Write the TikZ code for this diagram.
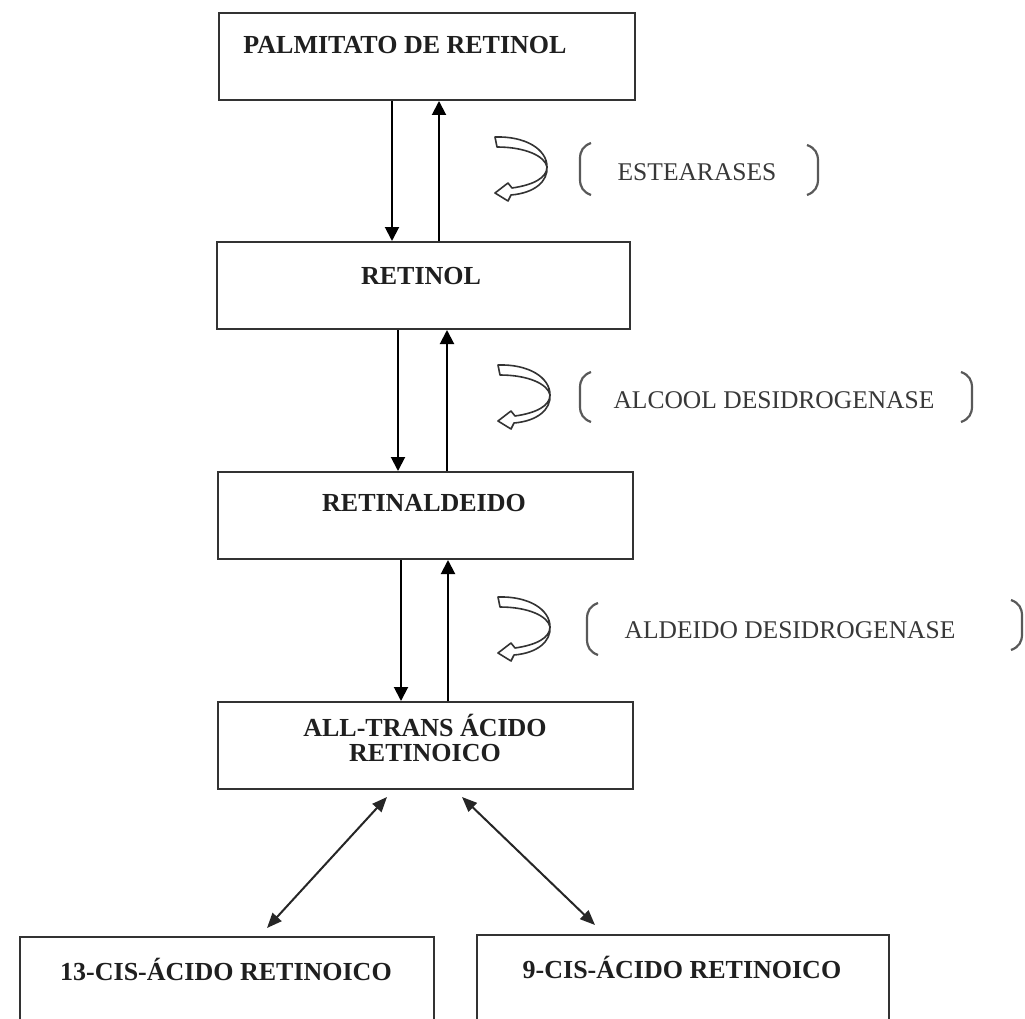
\documentclass[tikz,border=0pt]{standalone}
\usepackage{fontspec}
\setmainfont{Liberation Serif}
\usetikzlibrary{arrows.meta}
\definecolor{ink}{gray}{0.12}
\definecolor{frame}{gray}{0.2}
\newcommand{\myuturn}[1]{%
  \draw[uturn, shift={#1}] (0,0) .. controls (30,-1) and (52,12) .. (52,30)
    .. controls (52,41) and (38,48) .. (17,51) -- (13,46) -- (0,56) -- (13,64) -- (16,58)
    .. controls (40,56) and (53,44) .. (52,30)
    .. controls (50,19) and (30,10) .. (2,10) -- cycle;}
\newcommand{\mylbrack}[3]{% x, top, bottom
  \draw[brack] (#1+11,#2) .. controls (#1+3,#2+3) and (#1,#2+8) .. (#1,#2+16)
    -- (#1,#3-16) .. controls (#1,#3-8) and (#1+3,#3-3) .. (#1+11,#3);}
\newcommand{\myrbrack}[3]{%
  \draw[brack] (#1-11,#2) .. controls (#1-3,#2+3) and (#1,#2+8) .. (#1,#2+16)
    -- (#1,#3-16) .. controls (#1,#3-8) and (#1-3,#3-3) .. (#1-11,#3);}
\begin{document}
\begin{tikzpicture}[x=1pt,y=-1pt,
  box/.style={draw=frame, line width=2pt, rectangle, inner sep=0pt, anchor=north west},
  lbl/.style={font=\fontsize{26}{25}\selectfont\bfseries, text=ink, align=center, inner sep=0pt},
  enz/.style={font=\fontsize{25.5}{25}\selectfont, text=black!78, inner sep=0pt},
  arr/.style={line width=2pt, draw=black, -{Triangle[length=14pt,width=14pt]}},
  darr/.style={line width=2pt, draw=black!85, {Triangle[length=15pt,width=12pt]}-{Triangle[length=15pt,width=12pt]}},
  uturn/.style={draw=black!80, line width=1.6pt, fill=white, line join=round},
  brack/.style={draw=black!65, line width=2.2pt}]
\useasboundingbox (0,0) rectangle (1025,1019);
\fill[white] (0,0) rectangle (1025,1019);
\clip (0,0) rectangle (1025,1019);
% boxes
\node[box, minimum width=416pt, minimum height=87pt] (b1) at (218,12) {};
\node[box, minimum width=413pt, minimum height=87pt] (b2) at (216,241) {};
\node[box, minimum width=415pt, minimum height=87pt] (b3) at (217,471) {};
\node[box, minimum width=415pt, minimum height=87pt] (b4) at (217,701) {};
\node[box, minimum width=414pt, minimum height=120pt] (b5) at (19,936) {};
\node[box, minimum width=412pt, minimum height=120pt] (b6) at (476,934) {};
% labels
\node[lbl] (t1) at (405,45) {PALMITATO DE RETINOL};
\node[lbl] (t2) at (421,276) {RETINOL};
\node[lbl] (t3) at (424,503) {RETINALDEIDO};
\node[lbl] (t4) at (425,738) {ALL-TRANS ÁCIDO\\RETINOICO};
\node[lbl] (t5) at (226,969) {13-CIS-ÁCIDO RETINOICO};
\node[lbl] (t6) at (682,967) {9-CIS-ÁCIDO RETINOICO};
% vertical arrows
\draw[arr] (b1.south -| 392,0) -- (b2.north -| 392,0);
\draw[arr] (b2.north -| 439,0) -- (b1.south -| 439,0);
\draw[arr] (b2.south -| 398,0) -- (b3.north -| 398,0);
\draw[arr] (b3.north -| 447,0) -- (b2.south -| 447,0);
\draw[arr] (b3.south -| 401,0) -- (b4.north -| 401,0);
\draw[arr] (b4.north -| 448,0) -- (b3.south -| 448,0);
% diagonal double arrows
\coordinate (d1a) at (387,797);
\coordinate (d1b) at (267,928);
\coordinate (d2a) at (462,797);
\coordinate (d2b) at (595,925);
\draw[darr] (d1a) -- (d1b);
\draw[darr] (d2a) -- (d2b);
% u-turn symbols
\myuturn{(495,137)}
\myuturn{(498,365)}
\myuturn{(498,597)}
% brackets and enzyme names
\mylbrack{580}{143}{195}
\myrbrack{818}{145}{195}
\node[enz] (e1) at (697,172) {ESTEARASES};
\mylbrack{580}{372}{422}
\myrbrack{972}{372}{422}
\node[enz] (e2) at (774,400) {ALCOOL DESIDROGENASE};
\mylbrack{587}{603}{655}
\myrbrack{1022}{600}{650}
\node[enz] (e3) at (790,630) {ALDEIDO DESIDROGENASE};
\end{tikzpicture}
\end{document}
